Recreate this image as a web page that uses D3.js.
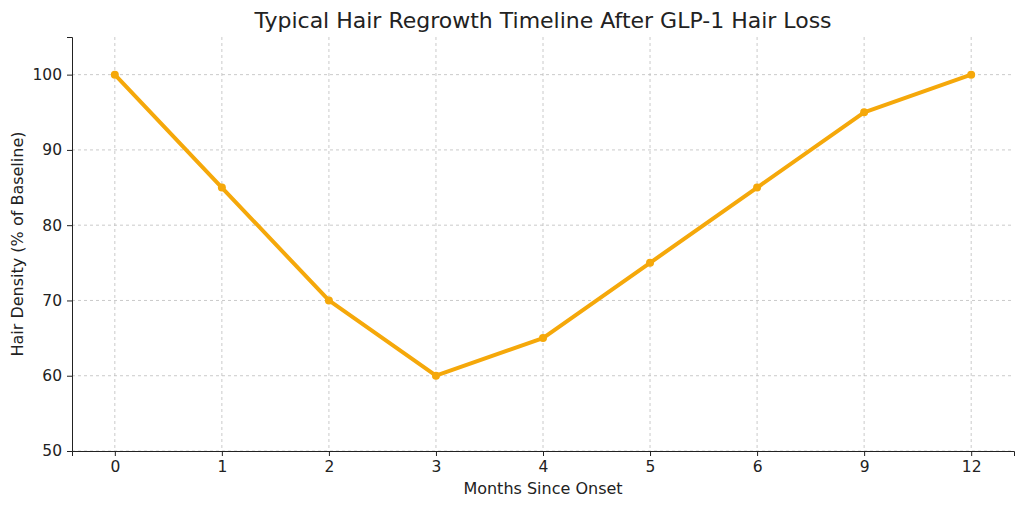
<!DOCTYPE html>
<html>
<head>
<meta charset="utf-8">
<style>
  body { margin: 0; background: #fff; }
  text { font-family: "DejaVu Sans", sans-serif; fill: #222; }
  .grid line { stroke: #bdbdbd; stroke-dasharray: 3,3; stroke-width: 0.8; }
  .axis path, .axis line { stroke: #222; }
  .axis text { font-size: 15.5px; }
</style>
</head>
<body>
<svg width="1024" height="507"></svg>
<script src="https://d3js.org/d3.v7.min.js"></script>
<script>
// Data
var months = ["0", "1", "2", "3", "4", "5", "6", "9", "12"];
var density = [100, 85, 70, 60, 65, 75, 85, 95, 100];
var yTicks = [50, 60, 70, 80, 90, 100];

var svg = d3.select("svg");
var margin = { left: 72, right: 10, top: 37, bottom: 56 };
var width = 1024, height = 507;

var x = d3.scalePoint().domain(months).range([margin.left, width - margin.right]).padding(0.4);
var y = d3.scaleLinear().domain([50, 105]).range([height - margin.bottom, margin.top]);

// grid
var grid = svg.append("g").attr("class", "grid");
grid.selectAll(".gx").data(months).enter().append("line")
    .attr("x1", function (d) { return x(d); }).attr("x2", function (d) { return x(d); })
    .attr("y1", margin.top).attr("y2", height - margin.bottom);
grid.selectAll(".gy").data(yTicks).enter().append("line")
    .attr("x1", margin.left).attr("x2", width - margin.right)
    .attr("y1", function (d) { return y(d); }).attr("y2", function (d) { return y(d); });

// axes
svg.append("g").attr("class", "axis")
    .attr("transform", "translate(0," + (height - margin.bottom) + ")")
    .call(d3.axisBottom(x).tickSizeOuter(0).tickSize(5).tickPadding(5));
svg.append("g").attr("class", "axis")
    .attr("transform", "translate(" + margin.left + ",0)")
    .call(d3.axisLeft(y).tickValues(yTicks).tickSizeOuter(0).tickSize(5).tickPadding(5));

// line
var line = d3.line().x(function (d, i) { return x(months[i]); }).y(function (d) { return y(d); });
svg.append("path").datum(density)
    .attr("fill", "none").attr("stroke", "#f5a80a").attr("stroke-width", 4)
    .attr("stroke-linejoin", "round").attr("d", line);
svg.selectAll(".dot").data(density).enter().append("circle")
    .attr("cx", function (d, i) { return x(months[i]); })
    .attr("cy", function (d) { return y(d); })
    .attr("r", 4).attr("fill", "#f5a80a");

// labels
svg.append("text").attr("x", (margin.left + width - margin.right) / 2).attr("y", 28)
    .attr("text-anchor", "middle").style("font-size", "22px")
    .text("Typical Hair Regrowth Timeline After GLP-1 Hair Loss");
svg.append("text").attr("x", (margin.left + width - margin.right) / 2).attr("y", 494)
    .attr("text-anchor", "middle").style("font-size", "16px").text("Months Since Onset");
svg.append("text").attr("transform", "translate(23," + ((margin.top + height - margin.bottom) / 2) + ") rotate(-90)")
    .attr("text-anchor", "middle").style("font-size", "16px").text("Hair Density (% of Baseline)");
</script>
</body>
</html>
